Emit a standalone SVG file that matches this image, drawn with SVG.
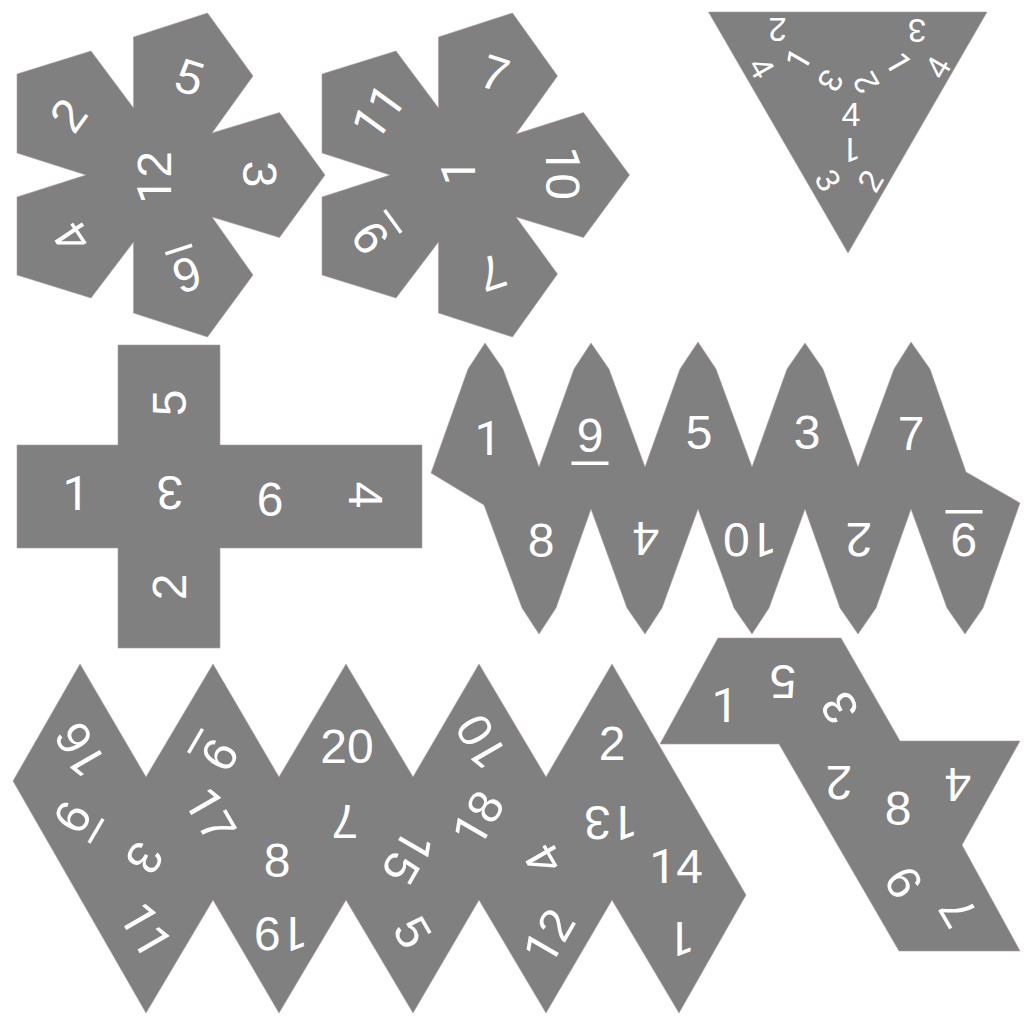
<svg xmlns="http://www.w3.org/2000/svg" width="1024" height="1024" viewBox="0 0 1024 1024">
<style>
.s{fill:#808080;stroke:#b49a9a;stroke-width:.6;stroke-linejoin:round}
text{font-family:"Liberation Sans",Arial,sans-serif;font-size:48px;fill:#fff;text-anchor:middle}
.r{font-family:Roboto,"Liberation Sans",sans-serif}
.m{font-size:34px}.n{font-size:33px}
.b{fill:#fff}
</style>
<defs>
<clipPath id="c12"><rect x="0" y="0" width="340" height="200"/></clipPath>
<clipPath id="c1"><rect x="340" y="0" width="300" height="182"/></clipPath>
</defs>
<rect width="1024" height="1024" fill="#fff"/>
<g id="d12-a">
<polygon class="s" points="133.500,37 207.500,13 253,76 212,133 279.500,112.500 325,175 279.500,237.500 212,217 253,275 207.500,337 133.500,313 133.500,242 91,298 17,275 17,197 86,175 17,153 17,74 91,51 133.500,108"/>
<g clip-path="url(#c12)"><text y="17" transform="translate(153.500,178) rotate(-90)"><tspan class="r">1</tspan>2</text></g>
<text y="17" transform="translate(190,77) rotate(18)">5</text>
<text y="17" transform="translate(260,174) rotate(90)">3</text>
<g transform="translate(187,275) rotate(162)"><text y="17">6</text><rect class="b" x="-14" y="25" width="28" height="3.500"/></g>
<text y="17" transform="translate(72,238) rotate(-124)">4</text>
<text y="17" transform="translate(68,115) rotate(-54)">2</text>
</g>
<g id="d12-b">
<polygon class="s" points="438.500,37 512.500,13 557.500,76 516,134 583.500,112.500 629.500,175 583.500,237.500 516,217 557.500,274 512.500,337 438.500,313 438.500,242 396,298 322,275 322,197 390,175 322,153 322,74 396,51 438.500,108"/>
<g clip-path="url(#c1)"><text class="r" y="17" transform="translate(458,172) rotate(-90)">1</text></g>
<text y="17" transform="translate(495,73) rotate(18)">7</text>
<text y="17" transform="translate(563,173) rotate(90)"><tspan class="r">1</tspan>0</text>
<text y="17" transform="translate(492,273) rotate(162)">7</text>
<g transform="translate(370,238) rotate(-126)"><text y="17">9</text><rect class="b" x="-14" y="26.500" width="28" height="3.500"/></g>
<text class="r" y="17" transform="translate(378,112) rotate(-54)">11</text>
</g>
<g id="d4">
<polygon class="s" points="708.500,12 987,12 848,253"/>
<text class="m" y="12" transform="translate(851,114)">4</text>
<text class="n" y="12" transform="translate(831,81) rotate(120)">3</text>
<text class="n" y="12" transform="translate(865.500,83) rotate(-120)">2</text>
<text class="n r" y="12" transform="translate(851,150) rotate(180)">1</text>
<text class="n" y="12" transform="translate(828.500,180) rotate(60)">3</text>
<text class="n" y="12" transform="translate(870,180.500) rotate(-60)">2</text>
<text class="n r" y="12" transform="translate(798,59) rotate(-60)">1</text>
<text class="n" y="12" transform="translate(777.500,30) rotate(180)">2</text>
<text class="n" y="12" transform="translate(762,67.500) rotate(60)">4</text>
<text class="n r" y="12" transform="translate(899,63) rotate(60)">1</text>
<text class="n" y="12" transform="translate(937.500,67) rotate(-60)">4</text>
<text class="n" y="12" transform="translate(917,31) rotate(180)">3</text>
</g>
<g id="d6">
<polygon class="s" points="118,345 220,345 220,445 422,445 422,548 220,548 220,648 118,648 118,548 17,548 17,445 118,445"/>
<text class="r" y="17" transform="translate(76,493)">1</text>
<text y="17" transform="translate(170,493) rotate(180)">3</text>
<text y="17" transform="translate(270,499)">6</text>
<text y="17" transform="translate(366,495) rotate(90)">4</text>
<text y="17" transform="translate(169,403) rotate(-90)">5</text>
<text y="17" transform="translate(169,587) rotate(-90)">2</text>
</g>
<g id="d10">
<polygon class="s" points="485,343 468,369 431,473 484,505 522,608 539,634 556,608 591,509 627,608 645,634 662,608 698,509 734,608 752,634 769,608 805,509 840,608 858,634 876,608 911,509 947,608 965,634 983,608 1020,503 966,472 930,369 911,342 894,369 858,467 823,369 805,343 787,369 752,467 716,369 698,342 680,369 645,467 609,369 591,343 574,369 539,467 503,369"/>
<text class="r" y="17" transform="translate(488,438)">1</text>
<g transform="translate(590,435)"><text y="17">9</text><rect class="b" x="-18.500" y="26.500" width="37" height="3.500"/></g>
<text y="17" transform="translate(699,432)">5</text>
<text y="17" transform="translate(807,432)">3</text>
<text y="17" transform="translate(911,433)">7</text>
<text y="17" transform="translate(541,540)">8</text>
<text y="17" transform="translate(646,539) rotate(180)">4</text>
<text y="17" transform="translate(750,540) rotate(180)"><tspan class="r">1</tspan>0</text>
<text y="17" transform="translate(859,540) rotate(180)">2</text>
<g transform="translate(964,540) rotate(180)"><text y="17">9</text><rect class="b" x="-18.500" y="26.500" width="37" height="3.500"/></g>
</g>
<g id="d20">
<polygon class="s" points="80,664 146,777 213,664 279,777 346,664 413,777 479,664 546,777 612,664 746,895 679,1013 612,900 546,1013 479,900 413,1013 346,900 279,1013 213,900 146,1013 13,781"/>
<text y="17" transform="translate(80,750) rotate(-120)"><tspan class="r">1</tspan>6</text>
<g transform="translate(220,755) rotate(120)"><text y="17">9</text><rect class="b" x="-14" y="26.500" width="28" height="3.500"/></g>
<text y="17" transform="translate(347,746)">20</text>
<text y="17" transform="translate(481,742) rotate(-120)"><tspan class="r">1</tspan>0</text>
<text y="17" transform="translate(612,743)">2</text>
<g transform="translate(72,817) rotate(-60)"><text y="17">6</text><rect class="b" x="-14" y="26" width="28" height="3.500"/></g>
<text y="17" transform="translate(145,858) rotate(120)">3</text>
<text y="17" transform="translate(211,815) rotate(60)"><tspan class="r">1</tspan>7</text>
<text y="17" transform="translate(277,860)">8</text>
<text y="17" transform="translate(345,822) rotate(180)">7</text>
<text y="17" transform="translate(408,857) rotate(120)"><tspan class="r">1</tspan>5</text>
<text y="17" transform="translate(478,818) rotate(-60)"><tspan class="r">1</tspan>8</text>
<text y="17" transform="translate(543,860) rotate(-120)">4</text>
<text y="17" transform="translate(611,823) rotate(180)"><tspan class="r">1</tspan>3</text>
<text y="17" transform="translate(676,866)"><tspan class="r">1</tspan>4</text>
<text class="r" y="17" transform="translate(146,930) rotate(60)">11</text>
<text y="17" transform="translate(281,934) rotate(180)"><tspan class="r">1</tspan>9</text>
<text y="17" transform="translate(413,932) rotate(60)">5</text>
<text y="17" transform="translate(549,936) rotate(-60)"><tspan class="r">1</tspan>2</text>
<text class="r" y="17" transform="translate(681,939) rotate(180)">1</text>
</g>
<g id="d8">
<polygon class="s" points="718,638 841,638 900,741 1020,741 962,845 1020,951 899,951 779,744 660,744"/>
<text class="r" y="17" transform="translate(725,705)">1</text>
<text y="17" transform="translate(783,682) rotate(180)">5</text>
<text y="17" transform="translate(839,708) rotate(-120)">3</text>
<text y="17" transform="translate(839,783) rotate(180)">2</text>
<text y="17" transform="translate(898,808)">8</text>
<text y="17" transform="translate(958,785) rotate(180)">4</text>
<text y="17" transform="translate(904,882) rotate(60)">6</text>
<text y="17" transform="translate(957.500,912) rotate(-120)">7</text>
</g>
</svg>
